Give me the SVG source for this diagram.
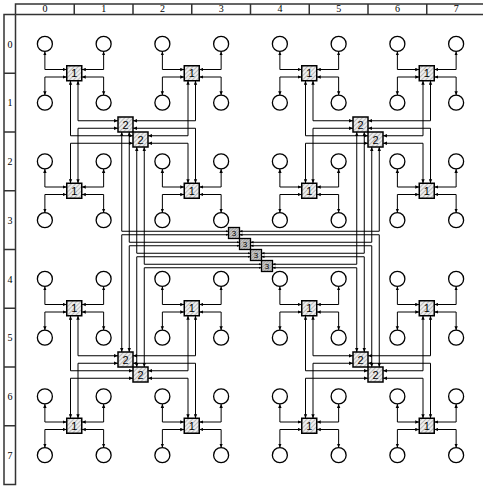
<svg xmlns="http://www.w3.org/2000/svg" width="483" height="486" viewBox="0 0 483 486">
<defs>
<style>
.c{fill:none;stroke:#000;stroke-width:1;marker-start:url(#ah);marker-end:url(#ah)}
.c3{fill:none;stroke:#000;stroke-width:1;marker-start:url(#ah);marker-end:url(#as)}
.leaf{fill:#fff;stroke:#000;stroke-width:1.3}
.sw{fill:url(#hatch);stroke:#000;stroke-width:1.5}
.sw3{fill:url(#hatch3);stroke:#000;stroke-width:1.3}
.lb{font-family:"Liberation Sans",Arial,sans-serif;font-size:11px;text-anchor:middle;fill:#000}
.lb3{font-family:"Liberation Sans",Arial,sans-serif;font-size:8px;text-anchor:middle;fill:#000}
.rl{fill:none;stroke:#333;stroke-width:1.5}
.rt{font-family:"Liberation Serif","Times New Roman",serif;font-size:10px;text-anchor:middle;fill:#000}
</style>
<pattern id="hatch" width="3" height="3" patternUnits="userSpaceOnUse" patternTransform="rotate(45)">
<rect width="3" height="3" fill="#eee"/>
<line x1="0" y1="0" x2="0" y2="3" stroke="#888" stroke-width="1"/>
</pattern>
<pattern id="hatch3" width="2" height="2" patternUnits="userSpaceOnUse" patternTransform="rotate(45)">
<rect width="2" height="2" fill="#ccc"/>
<line x1="0" y1="0" x2="0" y2="2" stroke="#666" stroke-width="0.8"/>
</pattern>
<marker id="ah" viewBox="0 0 4 4" refX="4" refY="2" markerWidth="4" markerHeight="4" markerUnits="userSpaceOnUse" orient="auto-start-reverse"><path d="M0,0.3 L4,2 L0,3.7 z" fill="#000"/></marker>
<marker id="as" viewBox="0 0 4 4" refX="4" refY="2" markerWidth="3" markerHeight="3" markerUnits="userSpaceOnUse" orient="auto-start-reverse"><path d="M0,0.3 L4,2 L0,3.7 z" fill="#000"/></marker>
</defs>
<g id="rulers">
<path class="rl" d="M15.5,14.5 V4 H485 M15.5,14.5 H485 M74.25,4 V14.5 M133,4 V14.5 M191.75,4 V14.5 M250.5,4 V14.5 M309.25,4 V14.5 M368,4 V14.5 M426.75,4 V14.5"/>
<path class="rl" d="M15.5,14.5 H4 V484.5 H15.5 V14.5 M4,73.25 H15.5 M4,132 H15.5 M4,190.75 H15.5 M4,249.5 H15.5 M4,308.25 H15.5 M4,367 H15.5 M4,425.75 H15.5"/>
<text class="rt" x="44.875" y="12">0</text><text class="rt" x="103.625" y="12">1</text><text class="rt" x="162.375" y="12">2</text><text class="rt" x="221.125" y="12">3</text><text class="rt" x="279.875" y="12">4</text><text class="rt" x="338.625" y="12">5</text><text class="rt" x="397.375" y="12">6</text><text class="rt" x="456.125" y="12">7</text>
<text class="rt" x="10" y="47.5">0</text><text class="rt" x="10" y="106.3">1</text><text class="rt" x="10" y="165">2</text><text class="rt" x="10" y="223.8">3</text><text class="rt" x="10" y="282.5">4</text><text class="rt" x="10" y="341.3">5</text><text class="rt" x="10" y="400">6</text><text class="rt" x="10" y="458.8">7</text>
</g>
<g id="connectors">
<path class="c" d="M44.875,51.375 V69.5 H66.75"/><path class="c" d="M66.75,77 H44.875 V95.125"/><path class="c" d="M103.625,51.375 V69.5 H81.75"/><path class="c" d="M81.75,77 H103.625 V95.125"/>
<path class="c" d="M162.375,51.375 V69.5 H184.25"/><path class="c" d="M184.25,77 H162.375 V95.125"/><path class="c" d="M221.125,51.375 V69.5 H199.25"/><path class="c" d="M199.25,77 H221.125 V95.125"/>
<path class="c" d="M279.875,51.375 V69.5 H301.75"/><path class="c" d="M301.75,77 H279.875 V95.125"/><path class="c" d="M338.625,51.375 V69.5 H316.75"/><path class="c" d="M316.75,77 H338.625 V95.125"/>
<path class="c" d="M397.375,51.375 V69.5 H419.25"/><path class="c" d="M419.25,77 H397.375 V95.125"/><path class="c" d="M456.125,51.375 V69.5 H434.25"/><path class="c" d="M434.25,77 H456.125 V95.125"/>
<path class="c" d="M44.875,168.875 V187 H66.75"/><path class="c" d="M66.75,194.5 H44.875 V212.625"/><path class="c" d="M103.625,168.875 V187 H81.75"/><path class="c" d="M81.75,194.5 H103.625 V212.625"/>
<path class="c" d="M162.375,168.875 V187 H184.25"/><path class="c" d="M184.25,194.5 H162.375 V212.625"/><path class="c" d="M221.125,168.875 V187 H199.25"/><path class="c" d="M199.25,194.5 H221.125 V212.625"/>
<path class="c" d="M279.875,168.875 V187 H301.75"/><path class="c" d="M301.75,194.5 H279.875 V212.625"/><path class="c" d="M338.625,168.875 V187 H316.75"/><path class="c" d="M316.75,194.5 H338.625 V212.625"/>
<path class="c" d="M397.375,168.875 V187 H419.25"/><path class="c" d="M419.25,194.5 H397.375 V212.625"/><path class="c" d="M456.125,168.875 V187 H434.25"/><path class="c" d="M434.25,194.5 H456.125 V212.625"/>
<path class="c" d="M44.875,286.375 V304.5 H66.75"/><path class="c" d="M66.75,312 H44.875 V330.125"/><path class="c" d="M103.625,286.375 V304.5 H81.75"/><path class="c" d="M81.75,312 H103.625 V330.125"/>
<path class="c" d="M162.375,286.375 V304.5 H184.25"/><path class="c" d="M184.25,312 H162.375 V330.125"/><path class="c" d="M221.125,286.375 V304.5 H199.25"/><path class="c" d="M199.25,312 H221.125 V330.125"/>
<path class="c" d="M279.875,286.375 V304.5 H301.75"/><path class="c" d="M301.75,312 H279.875 V330.125"/><path class="c" d="M338.625,286.375 V304.5 H316.75"/><path class="c" d="M316.75,312 H338.625 V330.125"/>
<path class="c" d="M397.375,286.375 V304.5 H419.25"/><path class="c" d="M419.25,312 H397.375 V330.125"/><path class="c" d="M456.125,286.375 V304.5 H434.25"/><path class="c" d="M434.25,312 H456.125 V330.125"/>
<path class="c" d="M44.875,403.875 V422 H66.75"/><path class="c" d="M66.75,429.5 H44.875 V447.625"/><path class="c" d="M103.625,403.875 V422 H81.75"/><path class="c" d="M81.75,429.5 H103.625 V447.625"/>
<path class="c" d="M162.375,403.875 V422 H184.25"/><path class="c" d="M184.25,429.5 H162.375 V447.625"/><path class="c" d="M221.125,403.875 V422 H199.25"/><path class="c" d="M199.25,429.5 H221.125 V447.625"/>
<path class="c" d="M279.875,403.875 V422 H301.75"/><path class="c" d="M301.75,429.5 H279.875 V447.625"/><path class="c" d="M338.625,403.875 V422 H316.75"/><path class="c" d="M316.75,429.5 H338.625 V447.625"/>
<path class="c" d="M397.375,403.875 V422 H419.25"/><path class="c" d="M419.25,429.5 H397.375 V447.625"/><path class="c" d="M456.125,403.875 V422 H434.25"/><path class="c" d="M434.25,429.5 H456.125 V447.625"/>
<path class="c" d="M78,80.75 V120.75 H118"/><path class="c" d="M70.5,80.75 V135.75 H133"/><path class="c" d="M78,183.25 V128.25 H118"/><path class="c" d="M70.5,183.25 V143.25 H133"/>
<path class="c" d="M188,80.75 V135.75 H148"/><path class="c" d="M195.5,80.75 V120.75 H133"/><path class="c" d="M188,183.25 V143.25 H148"/><path class="c" d="M195.5,183.25 V128.25 H133"/>
<path class="c" d="M313,80.75 V120.75 H353"/><path class="c" d="M305.5,80.75 V135.75 H368"/><path class="c" d="M313,183.25 V128.25 H353"/><path class="c" d="M305.5,183.25 V143.25 H368"/>
<path class="c" d="M423,80.75 V135.75 H383"/><path class="c" d="M430.5,80.75 V120.75 H368"/><path class="c" d="M423,183.25 V143.25 H383"/><path class="c" d="M430.5,183.25 V128.25 H368"/>
<path class="c" d="M78,315.75 V355.75 H118"/><path class="c" d="M70.5,315.75 V370.75 H133"/><path class="c" d="M78,418.25 V363.25 H118"/><path class="c" d="M70.5,418.25 V378.25 H133"/>
<path class="c" d="M188,315.75 V370.75 H148"/><path class="c" d="M195.5,315.75 V355.75 H133"/><path class="c" d="M188,418.25 V378.25 H148"/><path class="c" d="M195.5,418.25 V363.25 H133"/>
<path class="c" d="M313,315.75 V355.75 H353"/><path class="c" d="M305.5,315.75 V370.75 H368"/><path class="c" d="M313,418.25 V363.25 H353"/><path class="c" d="M305.5,418.25 V378.25 H368"/>
<path class="c" d="M423,315.75 V370.75 H383"/><path class="c" d="M430.5,315.75 V355.75 H368"/><path class="c" d="M423,418.25 V378.25 H383"/><path class="c" d="M430.5,418.25 V363.25 H368"/>
<path class="c3" d="M121.75,132 V231.25 H228.5"/><path class="c3" d="M129.25,132 V242.25 H239.5"/><path class="c3" d="M136.75,147 V253.25 H250.5"/><path class="c3" d="M144.25,147 V264.25 H261.5"/>
<path class="c3" d="M121.75,352 V234.75 H228.5"/><path class="c3" d="M129.25,352 V245.75 H239.5"/><path class="c3" d="M136.75,367 V256.75 H250.5"/><path class="c3" d="M144.25,367 V267.75 H261.5"/>
<path class="c3" d="M356.75,132 V264.25 H272.5"/><path class="c3" d="M364.25,132 V253.25 H261.5"/><path class="c3" d="M371.75,147 V242.25 H250.5"/><path class="c3" d="M379.25,147 V231.25 H239.5"/>
<path class="c3" d="M356.75,352 V267.75 H272.5"/><path class="c3" d="M364.25,352 V256.75 H261.5"/><path class="c3" d="M371.75,367 V245.75 H250.5"/><path class="c3" d="M379.25,367 V234.75 H239.5"/>
</g>
<g id="leaves">
<g id="n0-0"><circle class="leaf" cx="44.875" cy="43.875" r="7.5"/></g><g id="n0-1"><circle class="leaf" cx="103.625" cy="43.875" r="7.5"/></g><g id="n0-2"><circle class="leaf" cx="162.375" cy="43.875" r="7.5"/></g><g id="n0-3"><circle class="leaf" cx="221.125" cy="43.875" r="7.5"/></g><g id="n0-4"><circle class="leaf" cx="279.875" cy="43.875" r="7.5"/></g><g id="n0-5"><circle class="leaf" cx="338.625" cy="43.875" r="7.5"/></g><g id="n0-6"><circle class="leaf" cx="397.375" cy="43.875" r="7.5"/></g><g id="n0-7"><circle class="leaf" cx="456.125" cy="43.875" r="7.5"/></g>
<g id="n1-0"><circle class="leaf" cx="44.875" cy="102.625" r="7.5"/></g><g id="n1-1"><circle class="leaf" cx="103.625" cy="102.625" r="7.5"/></g><g id="n1-2"><circle class="leaf" cx="162.375" cy="102.625" r="7.5"/></g><g id="n1-3"><circle class="leaf" cx="221.125" cy="102.625" r="7.5"/></g><g id="n1-4"><circle class="leaf" cx="279.875" cy="102.625" r="7.5"/></g><g id="n1-5"><circle class="leaf" cx="338.625" cy="102.625" r="7.5"/></g><g id="n1-6"><circle class="leaf" cx="397.375" cy="102.625" r="7.5"/></g><g id="n1-7"><circle class="leaf" cx="456.125" cy="102.625" r="7.5"/></g>
<g id="n2-0"><circle class="leaf" cx="44.875" cy="161.375" r="7.5"/></g><g id="n2-1"><circle class="leaf" cx="103.625" cy="161.375" r="7.5"/></g><g id="n2-2"><circle class="leaf" cx="162.375" cy="161.375" r="7.5"/></g><g id="n2-3"><circle class="leaf" cx="221.125" cy="161.375" r="7.5"/></g><g id="n2-4"><circle class="leaf" cx="279.875" cy="161.375" r="7.5"/></g><g id="n2-5"><circle class="leaf" cx="338.625" cy="161.375" r="7.5"/></g><g id="n2-6"><circle class="leaf" cx="397.375" cy="161.375" r="7.5"/></g><g id="n2-7"><circle class="leaf" cx="456.125" cy="161.375" r="7.5"/></g>
<g id="n3-0"><circle class="leaf" cx="44.875" cy="220.125" r="7.5"/></g><g id="n3-1"><circle class="leaf" cx="103.625" cy="220.125" r="7.5"/></g><g id="n3-2"><circle class="leaf" cx="162.375" cy="220.125" r="7.5"/></g><g id="n3-3"><circle class="leaf" cx="221.125" cy="220.125" r="7.5"/></g><g id="n3-4"><circle class="leaf" cx="279.875" cy="220.125" r="7.5"/></g><g id="n3-5"><circle class="leaf" cx="338.625" cy="220.125" r="7.5"/></g><g id="n3-6"><circle class="leaf" cx="397.375" cy="220.125" r="7.5"/></g><g id="n3-7"><circle class="leaf" cx="456.125" cy="220.125" r="7.5"/></g>
<g id="n4-0"><circle class="leaf" cx="44.875" cy="278.875" r="7.5"/></g><g id="n4-1"><circle class="leaf" cx="103.625" cy="278.875" r="7.5"/></g><g id="n4-2"><circle class="leaf" cx="162.375" cy="278.875" r="7.5"/></g><g id="n4-3"><circle class="leaf" cx="221.125" cy="278.875" r="7.5"/></g><g id="n4-4"><circle class="leaf" cx="279.875" cy="278.875" r="7.5"/></g><g id="n4-5"><circle class="leaf" cx="338.625" cy="278.875" r="7.5"/></g><g id="n4-6"><circle class="leaf" cx="397.375" cy="278.875" r="7.5"/></g><g id="n4-7"><circle class="leaf" cx="456.125" cy="278.875" r="7.5"/></g>
<g id="n5-0"><circle class="leaf" cx="44.875" cy="337.625" r="7.5"/></g><g id="n5-1"><circle class="leaf" cx="103.625" cy="337.625" r="7.5"/></g><g id="n5-2"><circle class="leaf" cx="162.375" cy="337.625" r="7.5"/></g><g id="n5-3"><circle class="leaf" cx="221.125" cy="337.625" r="7.5"/></g><g id="n5-4"><circle class="leaf" cx="279.875" cy="337.625" r="7.5"/></g><g id="n5-5"><circle class="leaf" cx="338.625" cy="337.625" r="7.5"/></g><g id="n5-6"><circle class="leaf" cx="397.375" cy="337.625" r="7.5"/></g><g id="n5-7"><circle class="leaf" cx="456.125" cy="337.625" r="7.5"/></g>
<g id="n6-0"><circle class="leaf" cx="44.875" cy="396.375" r="7.5"/></g><g id="n6-1"><circle class="leaf" cx="103.625" cy="396.375" r="7.5"/></g><g id="n6-2"><circle class="leaf" cx="162.375" cy="396.375" r="7.5"/></g><g id="n6-3"><circle class="leaf" cx="221.125" cy="396.375" r="7.5"/></g><g id="n6-4"><circle class="leaf" cx="279.875" cy="396.375" r="7.5"/></g><g id="n6-5"><circle class="leaf" cx="338.625" cy="396.375" r="7.5"/></g><g id="n6-6"><circle class="leaf" cx="397.375" cy="396.375" r="7.5"/></g><g id="n6-7"><circle class="leaf" cx="456.125" cy="396.375" r="7.5"/></g>
<g id="n7-0"><circle class="leaf" cx="44.875" cy="455.125" r="7.5"/></g><g id="n7-1"><circle class="leaf" cx="103.625" cy="455.125" r="7.5"/></g><g id="n7-2"><circle class="leaf" cx="162.375" cy="455.125" r="7.5"/></g><g id="n7-3"><circle class="leaf" cx="221.125" cy="455.125" r="7.5"/></g><g id="n7-4"><circle class="leaf" cx="279.875" cy="455.125" r="7.5"/></g><g id="n7-5"><circle class="leaf" cx="338.625" cy="455.125" r="7.5"/></g><g id="n7-6"><circle class="leaf" cx="397.375" cy="455.125" r="7.5"/></g><g id="n7-7"><circle class="leaf" cx="456.125" cy="455.125" r="7.5"/></g>
</g>
<g id="level1">
<g id="s1-1-1"><rect class="sw" x="66.75" y="65.75" width="15" height="15"/><text class="lb" x="74.25" y="77.25">1</text></g>
<g id="s1-3-1"><rect class="sw" x="184.25" y="65.75" width="15" height="15"/><text class="lb" x="191.75" y="77.25">1</text></g>
<g id="s1-5-1"><rect class="sw" x="301.75" y="65.75" width="15" height="15"/><text class="lb" x="309.25" y="77.25">1</text></g>
<g id="s1-7-1"><rect class="sw" x="419.25" y="65.75" width="15" height="15"/><text class="lb" x="426.75" y="77.25">1</text></g>
<g id="s1-1-3"><rect class="sw" x="66.75" y="183.25" width="15" height="15"/><text class="lb" x="74.25" y="194.75">1</text></g>
<g id="s1-3-3"><rect class="sw" x="184.25" y="183.25" width="15" height="15"/><text class="lb" x="191.75" y="194.75">1</text></g>
<g id="s1-5-3"><rect class="sw" x="301.75" y="183.25" width="15" height="15"/><text class="lb" x="309.25" y="194.75">1</text></g>
<g id="s1-7-3"><rect class="sw" x="419.25" y="183.25" width="15" height="15"/><text class="lb" x="426.75" y="194.75">1</text></g>
<g id="s1-1-5"><rect class="sw" x="66.75" y="300.75" width="15" height="15"/><text class="lb" x="74.25" y="312.25">1</text></g>
<g id="s1-3-5"><rect class="sw" x="184.25" y="300.75" width="15" height="15"/><text class="lb" x="191.75" y="312.25">1</text></g>
<g id="s1-5-5"><rect class="sw" x="301.75" y="300.75" width="15" height="15"/><text class="lb" x="309.25" y="312.25">1</text></g>
<g id="s1-7-5"><rect class="sw" x="419.25" y="300.75" width="15" height="15"/><text class="lb" x="426.75" y="312.25">1</text></g>
<g id="s1-1-7"><rect class="sw" x="66.75" y="418.25" width="15" height="15"/><text class="lb" x="74.25" y="429.75">1</text></g>
<g id="s1-3-7"><rect class="sw" x="184.25" y="418.25" width="15" height="15"/><text class="lb" x="191.75" y="429.75">1</text></g>
<g id="s1-5-7"><rect class="sw" x="301.75" y="418.25" width="15" height="15"/><text class="lb" x="309.25" y="429.75">1</text></g>
<g id="s1-7-7"><rect class="sw" x="419.25" y="418.25" width="15" height="15"/><text class="lb" x="426.75" y="429.75">1</text></g>
</g>
<g id="level2">
<g id="s2-tl-a"><rect class="sw" x="118" y="117" width="15" height="15"/><text class="lb" x="125.5" y="128.5">2</text></g>
<g id="s2-tl-b"><rect class="sw" x="133" y="132" width="15" height="15"/><text class="lb" x="140.5" y="143.5">2</text></g>
<g id="s2-tr-a"><rect class="sw" x="353" y="117" width="15" height="15"/><text class="lb" x="360.5" y="128.5">2</text></g>
<g id="s2-tr-b"><rect class="sw" x="368" y="132" width="15" height="15"/><text class="lb" x="375.5" y="143.5">2</text></g>
<g id="s2-bl-a"><rect class="sw" x="118" y="352" width="15" height="15"/><text class="lb" x="125.5" y="363.5">2</text></g>
<g id="s2-bl-b"><rect class="sw" x="133" y="367" width="15" height="15"/><text class="lb" x="140.5" y="378.5">2</text></g>
<g id="s2-br-a"><rect class="sw" x="353" y="352" width="15" height="15"/><text class="lb" x="360.5" y="363.5">2</text></g>
<g id="s2-br-b"><rect class="sw" x="368" y="367" width="15" height="15"/><text class="lb" x="375.5" y="378.5">2</text></g>
</g>
<g id="level3">
<g id="s3-0"><rect class="sw3" x="228.5" y="227.5" width="11" height="11"/><text class="lb3" x="234" y="236">3</text></g>
<g id="s3-1"><rect class="sw3" x="239.5" y="238.5" width="11" height="11"/><text class="lb3" x="245" y="247">3</text></g>
<g id="s3-2"><rect class="sw3" x="250.5" y="249.5" width="11" height="11"/><text class="lb3" x="256" y="258">3</text></g>
<g id="s3-3"><rect class="sw3" x="261.5" y="260.5" width="11" height="11"/><text class="lb3" x="267" y="269">3</text></g>
</g>
</svg>
